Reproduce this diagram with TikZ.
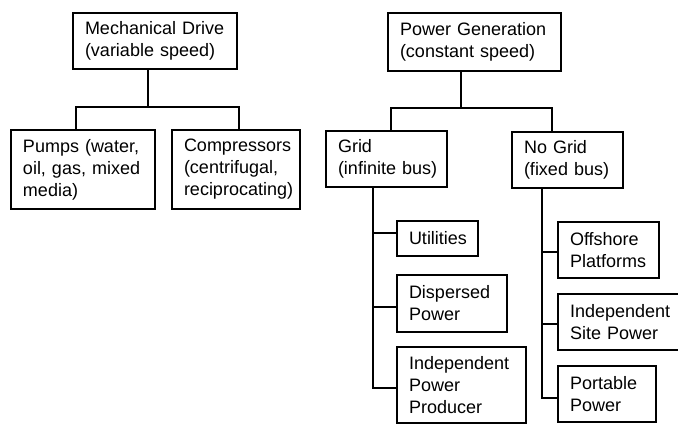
\documentclass[tikz,border=0pt]{standalone}
\usepackage{fontspec}
\setmainfont{Liberation Sans}
\begin{document}
\begin{tikzpicture}[x=1pt,y=-1pt,
  box/.style={draw, line width=1.4pt, align=left, inner xsep=12pt, inner ysep=0pt,
    outer sep=0pt, anchor=north west,
    font=\fontsize{18}{22}\selectfont},
  link/.style={line width=1.4pt}]
\useasboundingbox (0,0) rectangle (678,424);
% boxes
\node[box, text width=140pt, minimum height=56pt] (md) at (73,13) {\mbox{Mechanical Drive}\\\mbox{(variable speed)}};
\node[box, text width=149pt, minimum height=58pt] (pg) at (388,13) {\mbox{Power Generation}\\\mbox{(constant speed)}};
\node[box, text width=120pt, minimum height=79pt] (pumps) at (11,130) {\mbox{Pumps (water,}\\\mbox{oil, gas, mixed}\\\mbox{media)}};
\node[box, text width=104pt, minimum height=79pt] (comp) at (172,130) {\mbox{Compressors}\\\mbox{(centrifugal,}\\\mbox{reciprocating)}};
\node[box, text width=97pt, minimum height=56pt] (grid) at (326,131) {\mbox{Grid}\\\mbox{(infinite bus)}};
\node[box, text width=87pt, minimum height=56pt] (nogrid) at (512,132) {\mbox{No Grid}\\\mbox{(fixed bus)}};
\node[box, text width=57pt, minimum height=35pt] (util) at (397,221) {\mbox{Utilities}};
\node[box, text width=86pt, minimum height=57pt] (disp) at (397,275) {\mbox{Dispersed}\\\mbox{Power}};
\node[box, text width=105pt, minimum height=76pt] (ipp) at (397,347) {\mbox{Independent}\\\mbox{Power}\\\mbox{Producer}};
\node[box, text width=77pt, minimum height=56pt] (off) at (558,222) {\mbox{Offshore}\\\mbox{Platforms}};
\node[box, text width=101pt, minimum height=56pt] (isp) at (558,294) {\mbox{Independent}\\\mbox{Site Power}};
\node[box, text width=74pt, minimum height=56pt] (port) at (558,366) {\mbox{Portable}\\\mbox{Power}};
% junctions
\coordinate (j1) at (148,107);
\coordinate (a1) at (76,107);
\coordinate (a2) at (239,107);
\coordinate (j2) at (461,108);
\coordinate (b1) at (391,108);
\coordinate (b2) at (552,108);
\coordinate (gu) at (373,233);
\coordinate (gd) at (373,307);
\coordinate (gi) at (373,388);
\coordinate (nu) at (542,252);
\coordinate (ns) at (542,324);
\coordinate (np) at (542,398);
% left tree
\draw[link] (md.south -| j1) -- (j1);
\draw[link] (pumps.north -| a1) -- (a1) -- (a2) -- (comp.north -| a2);
% right tree
\draw[link] (pg.south -| j2) -- (j2);
\draw[link] (grid.north -| b1) -- (b1) -- (b2) -- (nogrid.north -| b2);
% grid branches
\draw[link] (grid.south -| gi) -- (gi) -- (ipp.west |- gi);
\draw[link] (gu) -- (util.west |- gu);
\draw[link] (gd) -- (disp.west |- gd);
% no grid branches
\draw[link] (nogrid.south -| np) -- (np) -- (port.west |- np);
\draw[link] (nu) -- (off.west |- nu);
\draw[link] (ns) -- (isp.west |- ns);
\end{tikzpicture}
\end{document}
